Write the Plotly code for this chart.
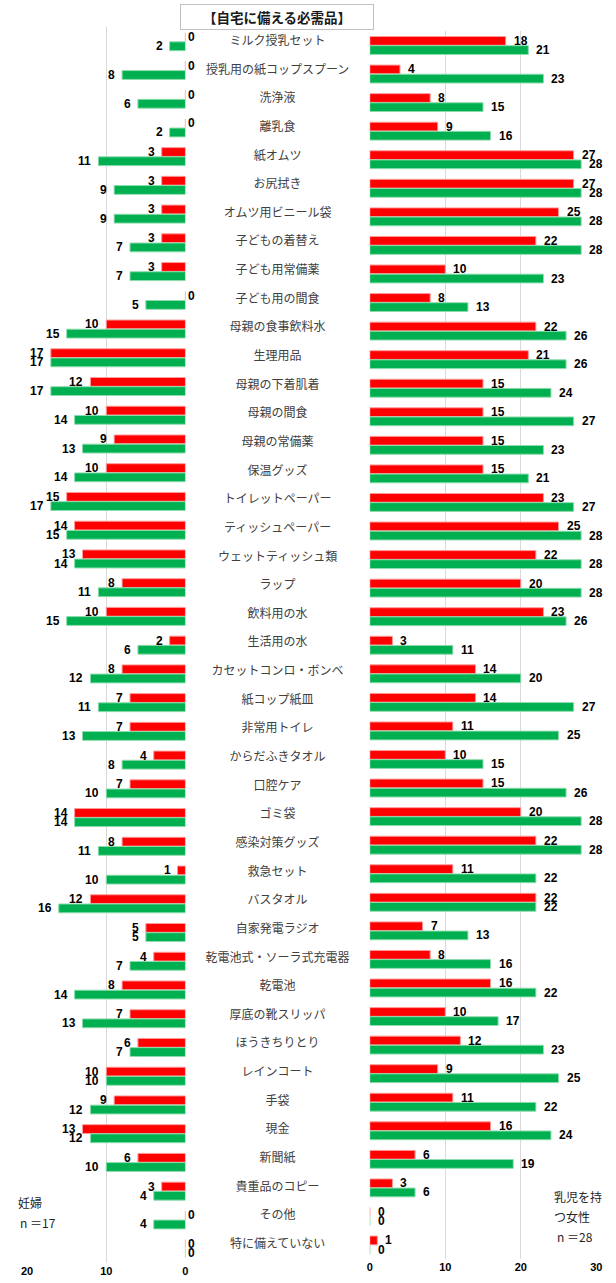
import plotly.graph_objects as go

# Items prepared at home, with counts for the two respondent groups
categories = [
    "ミルク授乳セット", "授乳用の紙コップスプーン", "洗浄液", "離乳食", "紙オムツ",
    "お尻拭き", "オムツ用ビニール袋", "子どもの着替え", "子ども用常備薬", "子ども用の間食",
    "母親の食事飲料水", "生理用品", "母親の下着肌着", "母親の間食", "母親の常備薬",
    "保温グッズ", "トイレットペーパー", "ティッシュペーパー", "ウェットティッシュ類", "ラップ",
    "飲料用の水", "生活用の水", "カセットコンロ・ボンベ", "紙コップ紙皿", "非常用トイレ",
    "からだふきタオル", "口腔ケア", "ゴミ袋", "感染対策グッズ", "救急セット",
    "バスタオル", "自家発電ラジオ", "乾電池式・ソーラ式充電器", "乾電池", "厚底の靴スリッパ",
    "ほうきちりとり", "レインコート", "手袋", "現金", "新聞紙",
    "貴重品のコピー", "その他", "特に備えていない",
]

# 妊婦 (n=17)
pregnant_red = [0, 0, 0, 0, 3, 3, 3, 3, 3, 0,
                10, 17, 12, 10, 9, 10, 15, 14, 13, 8,
                10, 2, 8, 7, 7, 4, 7, 14, 8, 1,
                12, 5, 4, 8, 7, 6, 10, 9, 13, 6,
                3, 0, 0]
pregnant_green = [2, 8, 6, 2, 11, 9, 9, 7, 7, 5,
                  15, 17, 17, 14, 13, 14, 17, 15, 14, 11,
                  15, 6, 12, 11, 13, 8, 10, 14, 11, 10,
                  16, 5, 7, 14, 13, 7, 10, 12, 12, 10,
                  4, 4, 0]

# 乳児を持つ女性 (n=28)
mother_red = [18, 4, 8, 9, 27, 27, 25, 22, 10, 8,
              22, 21, 15, 15, 15, 15, 23, 25, 22, 20,
              23, 3, 14, 14, 11, 10, 15, 20, 22, 11,
              22, 7, 8, 16, 10, 12, 9, 11, 16, 6,
              3, 0, 1]
mother_green = [21, 23, 15, 16, 28, 28, 28, 28, 23, 13,
                26, 26, 24, 27, 23, 21, 27, 28, 28, 28,
                26, 11, 20, 27, 25, 15, 26, 28, 28, 22,
                22, 13, 16, 22, 17, 23, 25, 22, 24, 19,
                6, 0, 0]

left_ticks = [0, 10, 20]
right_ticks = [0, 10, 20, 30]

W, H = 616, 1283
RED = "#FF0000"
GREEN = "#00B050"
GRID = "#d9d9d9"
NUM_FONT = "Liberation Sans, Arial, sans-serif"
JP_FONT = "Noto Sans CJK JP, sans-serif"

n = len(categories)
rows = list(range(n))
BARGAP = 0.36
half = (1 - BARGAP) / 4  # offset of each bar's centre from its row centre


def fx(p):
    return p / W


def fy(p):
    return 1 - p / H


fig = go.Figure()

bar_line_red = dict(color="#ff9a9a", width=1)
bar_line_green = dict(color="#8ddcae", width=1)

fig.add_trace(go.Bar(x=pregnant_red, y=rows, orientation="h", marker=dict(color=RED, line=bar_line_red),
                     xaxis="x", yaxis="y", hoverinfo="x"))
fig.add_trace(go.Bar(x=pregnant_green, y=rows, orientation="h", marker=dict(color=GREEN, line=bar_line_green),
                     xaxis="x", yaxis="y", hoverinfo="x"))
fig.add_trace(go.Bar(x=mother_red, y=rows, orientation="h", marker=dict(color=RED, line=bar_line_red),
                     xaxis="x2", yaxis="y2", hoverinfo="x"))
fig.add_trace(go.Bar(x=mother_green, y=rows, orientation="h", marker=dict(color=GREEN, line=bar_line_green),
                     xaxis="x2", yaxis="y2", hoverinfo="x"))

# item names down the middle column
fig.add_trace(go.Scatter(x=[0.5] * n, y=rows, mode="text", text=categories,
                         textposition="middle center",
                         textfont=dict(family=JP_FONT, size=12, color="#404040"),
                         xaxis="x3", yaxis="y3", hoverinfo="skip"))

annotations = []
num_font = dict(family=NUM_FONT, size=12, color="#000000", weight="bold")

for i in rows:
    for val, off in ((pregnant_red[i], -half), (pregnant_green[i], half)):
        if val > 0:
            anchor, shift = "right", -5
        else:
            anchor, shift = "left", 1
        annotations.append(dict(x=val, y=i + off, xref="x", yref="y", text=str(val),
                                showarrow=False, xanchor=anchor, yanchor="middle",
                                xshift=shift, font=num_font))
    for val, off in ((mother_red[i], -half), (mother_green[i], half)):
        annotations.append(dict(x=val, y=i + off, xref="x2", yref="y2", text=str(val),
                                showarrow=False, xanchor="left", yanchor="middle",
                                xshift=6, font=num_font))

# title box
annotations.append(dict(x=fx(276), y=fy(17.5), xref="paper", yref="paper",
                        text="【自宅に備える必需品】", showarrow=False,
                        xanchor="center", yanchor="middle",
                        width=190, height=22, borderpad=1,
                        bordercolor="#c0c0c0", borderwidth=1, bgcolor="#ffffff",
                        font=dict(family=JP_FONT, size=13.5, color="#1a1a1a", weight="bold")))

# group captions
cap_font = dict(family=JP_FONT, size=12, color="#262626")
for txt, x, y in (("妊婦", 10, 1202), ("n ＝17", 12, 1222),
                  ("乳児を持", 557, 1196), ("つ女性", 557, 1216.5), ("n ＝28", 560, 1236)):
    annotations.append(dict(x=fx(x), y=fy(y), xref="paper", yref="paper", text=txt,
                            showarrow=False, xanchor="left", yanchor="middle", font=cap_font))

tick_font = dict(family=NUM_FONT, size=11, color="#000000", weight="bold")

fig.update_layout(
    width=W, height=H,
    margin=dict(l=0, r=0, t=0, b=0),
    paper_bgcolor="#ffffff", plot_bgcolor="#ffffff",
    showlegend=False,
    barmode="group", bargap=BARGAP, bargroupgap=0.04,
    annotations=annotations,
    xaxis=dict(domain=[fx(21.5), fx(183)], range=[20, 0], tickvals=left_ticks,
               showgrid=True, gridcolor=GRID, gridwidth=1, zeroline=False, showline=False,
               ticks="", tickfont=tick_font, anchor="y", fixedrange=True),
    yaxis=dict(domain=[fy(1263), fy(27.3)], range=[n - 0.5, -0.5], visible=False,
               anchor="x", fixedrange=True),
    xaxis2=dict(domain=[fx(371), fx(602)], range=[0, 30], tickvals=right_ticks,
                showgrid=True, gridcolor=GRID, gridwidth=1, zeroline=False, showline=False,
                ticks="", tickfont=tick_font, anchor="y2", fixedrange=True),
    yaxis2=dict(domain=[fy(1259.3), fy(31.2)], range=[n - 0.5, -0.5], visible=False,
                anchor="x2", fixedrange=True),
    xaxis3=dict(domain=[fx(183), fx(371)], range=[0, 1], visible=False,
                anchor="y3", fixedrange=True),
    yaxis3=dict(domain=[fy(1259.3), fy(27.7)], range=[n - 0.5, -0.5], visible=False,
                anchor="x3", fixedrange=True),
)

fig.write_html("out.html")
